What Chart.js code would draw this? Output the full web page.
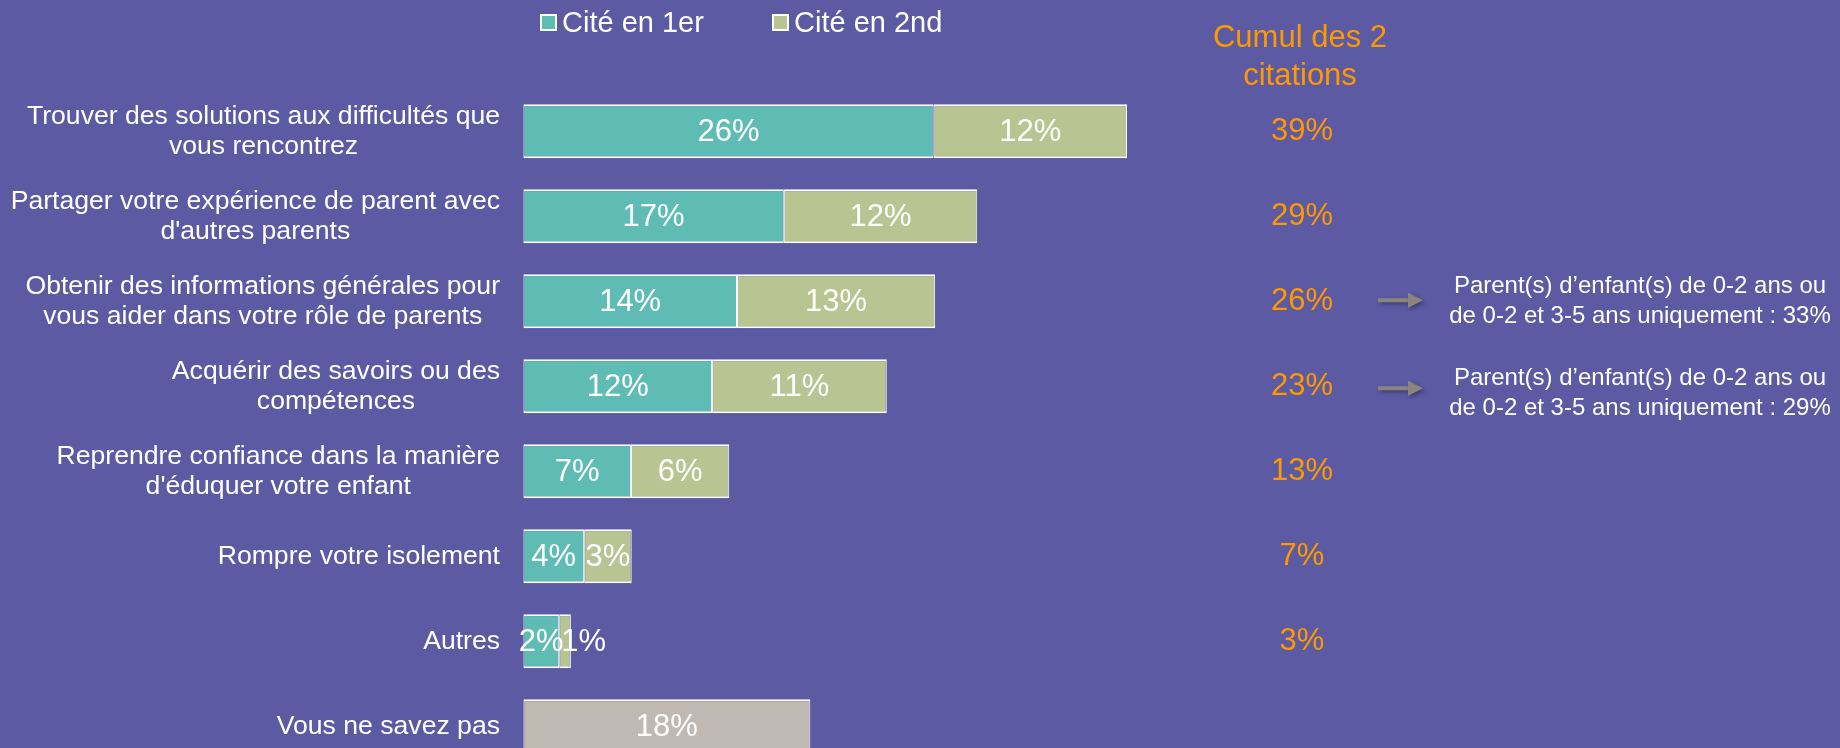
<!DOCTYPE html>
<html>
<head>
<meta charset="utf-8">
<script src="https://cdn.jsdelivr.net/npm/chart.js@4.4.1/dist/chart.umd.min.js"></script>
<style>
  html, body { margin: 0; padding: 0; background: #5b5aa3; overflow: hidden; }
  #wrap { width: 1840px; height: 748px; overflow: hidden; }
</style>
</head>
<body>
<div id="wrap"><canvas id="c" width="1840" height="770"></canvas></div>
<script>
// categories (multi-line labels)
const categories = [
  ['Trouver des solutions aux difficultés que', 'vous rencontrez'],
  ['Partager votre expérience de parent avec', "d'autres parents"],
  ['Obtenir des informations générales pour', 'vous aider dans votre rôle de parents'],
  ['Acquérir des savoirs ou des', 'compétences'],
  ['Reprendre confiance dans la manière', "d'éduquer votre enfant"],
  ['Rompre votre isolement'],
  ['Autres'],
  ['Vous ne savez pas']
];
const citeFirst  = [26.3, 16.7, 13.7, 12.1, 6.9, 3.9, 2.3, null];
const citeSecond = [12.4, 12.4, 12.7, 11.2, 6.3, 3.05, 0.75, null];
const dontKnow   = [null, null, null, null, null, null, null, 18.4];
const cumulLabels = ['39%', '29%', '26%', '23%', '13%', '7%', '3%', null];
const cumulTitle = ['Cumul des 2', 'citations'];
const noteRows = [2, 3];
const noteTexts = [
  ['Parent(s) d\u2019enfant(s) de 0-2 ans ou', 'de 0-2 et 3-5 ans uniquement : 33%'],
  ['Parent(s) d\u2019enfant(s) de 0-2 ans ou', 'de 0-2 et 3-5 ans uniquement : 29%']
];

const FONT = '"Liberation Sans", Arial, sans-serif';
const TEAL = '#5fbcb5';
const OLIVE = '#b8c492';
const GREY = '#c0b8b2';
const ORANGE = '#ff9900';

// legend, category labels, value labels, cumul column, notes
const overlay = {
  id: 'overlay',
  afterDatasetsDraw(chart) {
    const ctx = chart.ctx;
    const y = chart.scales.y;
    ctx.save();

    // value labels inside bars
    ctx.fillStyle = '#ffffff';
    ctx.font = '31px ' + FONT;
    ctx.textBaseline = 'middle';
    chart.data.datasets.forEach((ds, i) => {
      chart.getDatasetMeta(i).data.forEach((bar, j) => {
        const v = ds.data[j];
        if (v == null) return;
        const txt = Math.round(v) + '%';
        const w = ctx.measureText(txt).width;
        const len = Math.abs(bar.x - bar.base);
        if (w > 2 * len + 10) {
          ctx.textAlign = 'left';
          ctx.fillText(txt, Math.min(bar.x, bar.base) + 2, bar.y + 1);
        } else {
          ctx.textAlign = 'center';
          ctx.fillText(txt, (bar.x + bar.base) / 2, bar.y + 1);
        }
      });
    });

    // category labels (right-aligned block, centred lines)
    ctx.font = '26.6px ' + FONT;
    ctx.textAlign = 'center';
    categories.forEach((lines, i) => {
      const cy = y.getPixelForValue(i);
      const maxW = Math.max(...lines.map(l => ctx.measureText(l).width));
      const cx = 500 - maxW / 2;
      const lh = 30;
      lines.forEach((l, k) => {
        ctx.fillText(l, cx, cy + (k - (lines.length - 1) / 2) * lh);
      });
    });

    // cumul column
    ctx.fillStyle = ORANGE;
    ctx.font = '31px ' + FONT;
    ctx.textBaseline = 'alphabetic';
    ctx.fillText(cumulTitle[0], 1300, 47);
    ctx.fillText(cumulTitle[1], 1300, 85);
    ctx.textBaseline = 'middle';
    cumulLabels.forEach((t, i) => {
      if (t) ctx.fillText(t, 1302, y.getPixelForValue(i));
    });

    // arrows + notes
    ctx.font = '24px ' + FONT;
    const arrowDy = [-1, 2];
    const textDy = [0, 7];
    noteRows.forEach((r, k) => {
      const cy = y.getPixelForValue(r);
      const ay = cy + arrowDy[k];
      ctx.save();
      ctx.shadowColor = 'rgba(0,0,0,0.35)';
      ctx.shadowBlur = 4;
      ctx.shadowOffsetX = 2;
      ctx.shadowOffsetY = 2;
      ctx.fillStyle = '#8c857e';
      ctx.fillRect(1378, ay - 2, 31, 4);
      ctx.beginPath();
      ctx.moveTo(1408, ay - 7.5);
      ctx.lineTo(1423, ay);
      ctx.lineTo(1408, ay + 7.5);
      ctx.closePath();
      ctx.fill();
      ctx.restore();
      ctx.fillStyle = '#ffffff';
      const ty = cy + textDy[k];
      ctx.fillText(noteTexts[k][0], 1640, ty - 15);
      ctx.fillText(noteTexts[k][1], 1640, ty + 15);
    });

    // legend
    ctx.font = '29px ' + FONT;
    ctx.textAlign = 'left';
    ctx.textBaseline = 'alphabetic';
    const items = [[chart.data.datasets[0], 540], [chart.data.datasets[1], 772]];
    items.forEach(([ds, x]) => {
      ctx.fillStyle = '#ffffff';
      ctx.fillRect(x, 14, 17, 17);
      ctx.fillStyle = ds.backgroundColor;
      ctx.fillRect(x + 2, 16, 13, 13);
      ctx.fillStyle = '#ffffff';
      ctx.fillText(ds.label, x + 22, 32);
    });

    ctx.restore();
  }
};

const border = { top: 2, bottom: 2, left: 1, right: 1 };

new Chart(document.getElementById('c'), {
  type: 'bar',
  data: {
    labels: categories,
    datasets: [
      { label: 'Cité en 1er', data: citeFirst, backgroundColor: TEAL,
        borderColor: '#ffffff', borderWidth: border, borderSkipped: false },
      { label: 'Cité en 2nd', data: citeSecond, backgroundColor: OLIVE,
        borderColor: '#ffffff', borderWidth: border, borderSkipped: false },
      { label: 'Vous ne savez pas', data: dontKnow, backgroundColor: GREY,
        borderColor: '#ffffff', borderWidth: border, borderSkipped: false }
    ]
  },
  options: {
    indexAxis: 'y',
    responsive: false,
    animation: false,
    devicePixelRatio: 1,
    layout: { padding: { top: 88.7, left: 523.3, right: 68.7, bottom: 1.3 } },
    barPercentage: 0.635,
    categoryPercentage: 1,
    scales: {
      x: { stacked: true, min: 0, max: 80, display: false },
      y: { stacked: true, display: false }
    },
    plugins: {
      legend: { display: false },
      tooltip: { enabled: false }
    }
  },
  plugins: [overlay]
});
</script>
</body>
</html>
